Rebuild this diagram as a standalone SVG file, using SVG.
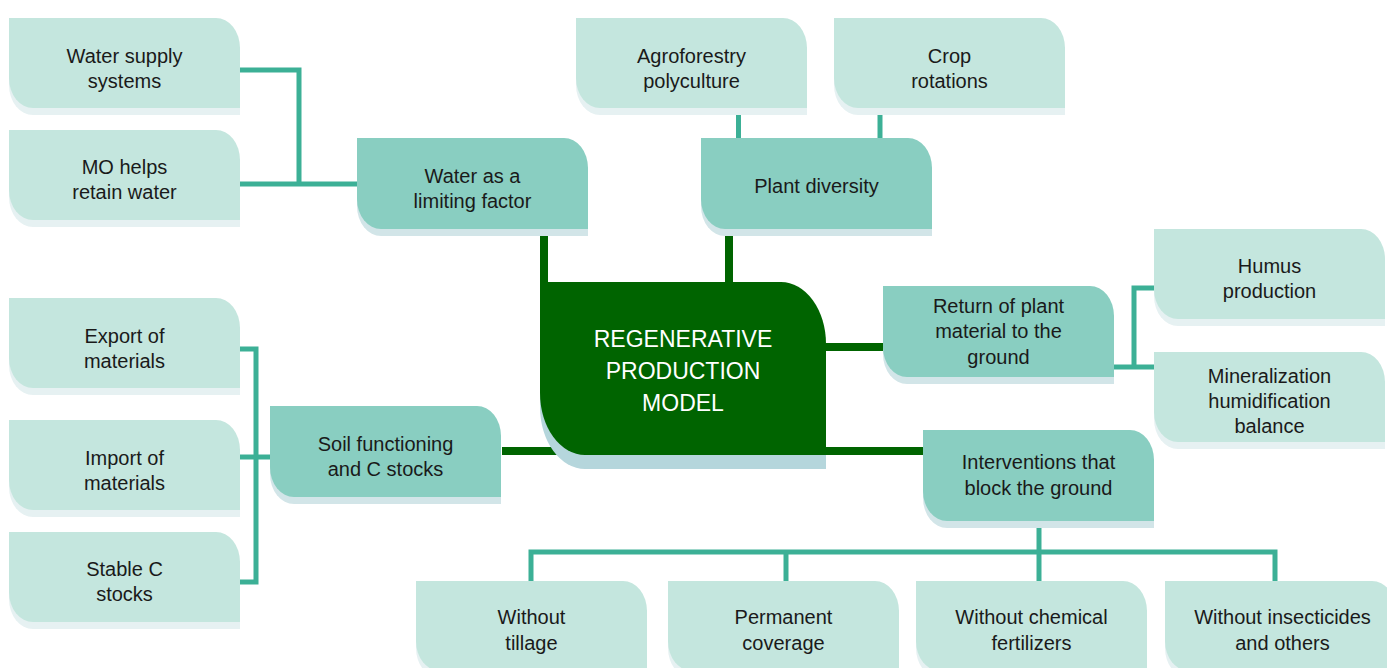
<svg xmlns="http://www.w3.org/2000/svg" xmlns:xlink="http://www.w3.org/1999/xlink" width="1387" height="668" viewBox="0 0 1387 668">
<style>
.light{fill:#c4e6de}
.sh-l{fill:#e6f1f2}
.mid{fill:#89cec1}
.sh-m{fill:#d2e5e8}
.ctr{fill:#006400}
.sh-c{fill:#b5d6dc}
.t{font-family:"Liberation Sans",Arial,sans-serif;font-size:20px;fill:#1a1a1a;text-anchor:middle}
.tc{font-family:"Liberation Sans",Arial,sans-serif;font-size:23px;fill:#ffffff;text-anchor:middle}
.teal{fill:none;stroke:#3cb096;stroke-width:5}
.dark{fill:none;stroke:#006400;stroke-width:8}
</style>
<defs>
<path id="sbox" d="M0,0 H207 A24,30 0 0 1 231,30 V90 H24 A24,30 0 0 1 0,60 Z"/>
<path id="mbox" d="M0,0 H207 A24,30 0 0 1 231,30 V91 H24 A24,30 0 0 1 0,61 Z"/>
<path id="cbox" d="M0,0 H241 A45,62 0 0 1 286,62 V173 H45 A45,62 0 0 1 0,111 Z"/>
</defs>
<rect width="1387" height="668" fill="#ffffff"/>
<g id="connectors">
<polyline class="teal" points="240,70 299,70 299,184"/>
<line class="teal" x1="240" y1="184" x2="357" y2="184"/>
<line class="teal" x1="738.5" y1="115" x2="738.5" y2="138"/>
<line class="teal" x1="880" y1="115" x2="880" y2="138"/>
<line class="teal" x1="1114" y1="367" x2="1154" y2="367"/>
<polyline class="teal" points="1134,367 1134,288 1154,288"/>
<polyline class="teal" points="240,349 256,349 256,582 240,582"/>
<line class="teal" x1="240" y1="457" x2="270" y2="457"/>
<line class="teal" x1="1039" y1="528" x2="1039" y2="581"/>
<polyline class="teal" points="531,581 531,552 1275,552 1275,581"/>
<line class="teal" x1="786" y1="552" x2="786" y2="581"/>
<line class="dark" x1="544" y1="236" x2="544" y2="290"/>
<line class="dark" x1="729" y1="236" x2="729" y2="290"/>
<line class="dark" x1="820" y1="347" x2="883" y2="347"/>
<line class="dark" x1="502" y1="451" x2="590" y2="451"/>
<line class="dark" x1="820" y1="451" x2="924" y2="451"/>
</g>
<g id="n-center">
<use xlink:href="#cbox" class="sh-c" x="540" y="296"/>
<use xlink:href="#cbox" class="ctr" x="540" y="282"/>
<text class="tc" x="683" y="347">REGENERATIVE</text>
<text class="tc" x="683" y="379">PRODUCTION</text>
<text class="tc" x="683" y="411">MODEL</text>
</g>
<g id="n-water-limiting">
<use xlink:href="#mbox" class="sh-m" x="357" y="145"/>
<use xlink:href="#mbox" class="mid" x="357" y="138"/>
<text class="t" x="472.5" y="182.5">Water as a</text>
<text class="t" x="472.5" y="207.5">limiting factor</text>
</g>
<g id="n-plant-diversity">
<use xlink:href="#mbox" class="sh-m" x="701" y="145"/>
<use xlink:href="#mbox" class="mid" x="701" y="138"/>
<text class="t" x="816.5" y="192.5">Plant diversity</text>
</g>
<g id="n-return">
<use xlink:href="#mbox" class="sh-m" x="883" y="293"/>
<use xlink:href="#mbox" class="mid" x="883" y="286"/>
<text class="t" x="998.5" y="313">Return of plant</text>
<text class="t" x="998.5" y="338">material to the</text>
<text class="t" x="998.5" y="364">ground</text>
</g>
<g id="n-soil">
<use xlink:href="#mbox" class="sh-m" x="270" y="413"/>
<use xlink:href="#mbox" class="mid" x="270" y="406"/>
<text class="t" x="385.5" y="451">Soil functioning</text>
<text class="t" x="385.5" y="476">and C stocks</text>
</g>
<g id="n-interventions">
<use xlink:href="#mbox" class="sh-m" x="923" y="437"/>
<use xlink:href="#mbox" class="mid" x="923" y="430"/>
<text class="t" x="1038.5" y="469">Interventions that</text>
<text class="t" x="1038.5" y="495">block the ground</text>
</g>
<g id="n-water-supply">
<use xlink:href="#sbox" class="sh-l" x="9" y="25"/>
<use xlink:href="#sbox" class="light" x="9" y="18"/>
<text class="t" x="124.5" y="63">Water supply</text>
<text class="t" x="124.5" y="88">systems</text>
</g>
<g id="n-mo-helps">
<use xlink:href="#sbox" class="sh-l" x="9" y="137"/>
<use xlink:href="#sbox" class="light" x="9" y="130"/>
<text class="t" x="124.5" y="174">MO helps</text>
<text class="t" x="124.5" y="199">retain water</text>
</g>
<g id="n-agroforestry">
<use xlink:href="#sbox" class="sh-l" x="576" y="25"/>
<use xlink:href="#sbox" class="light" x="576" y="18"/>
<text class="t" x="691.5" y="63">Agroforestry</text>
<text class="t" x="691.5" y="88">polyculture</text>
</g>
<g id="n-crop">
<use xlink:href="#sbox" class="sh-l" x="834" y="25"/>
<use xlink:href="#sbox" class="light" x="834" y="18"/>
<text class="t" x="949.5" y="63">Crop</text>
<text class="t" x="949.5" y="88">rotations</text>
</g>
<g id="n-humus">
<use xlink:href="#sbox" class="sh-l" x="1154" y="236"/>
<use xlink:href="#sbox" class="light" x="1154" y="229"/>
<text class="t" x="1269.5" y="273">Humus</text>
<text class="t" x="1269.5" y="298">production</text>
</g>
<g id="n-mineralization">
<use xlink:href="#sbox" class="sh-l" x="1154" y="359"/>
<use xlink:href="#sbox" class="light" x="1154" y="352"/>
<text class="t" x="1269.5" y="383">Mineralization</text>
<text class="t" x="1269.5" y="408">humidification</text>
<text class="t" x="1269.5" y="433">balance</text>
</g>
<g id="n-export">
<use xlink:href="#sbox" class="sh-l" x="9" y="305"/>
<use xlink:href="#sbox" class="light" x="9" y="298"/>
<text class="t" x="124.5" y="343">Export of</text>
<text class="t" x="124.5" y="368">materials</text>
</g>
<g id="n-import">
<use xlink:href="#sbox" class="sh-l" x="9" y="427"/>
<use xlink:href="#sbox" class="light" x="9" y="420"/>
<text class="t" x="124.5" y="465">Import of</text>
<text class="t" x="124.5" y="490">materials</text>
</g>
<g id="n-stable-c">
<use xlink:href="#sbox" class="sh-l" x="9" y="539"/>
<use xlink:href="#sbox" class="light" x="9" y="532"/>
<text class="t" x="124.5" y="576">Stable C</text>
<text class="t" x="124.5" y="601">stocks</text>
</g>
<g id="n-without-tillage">
<use xlink:href="#sbox" class="sh-l" x="416" y="588"/>
<use xlink:href="#sbox" class="light" x="416" y="581"/>
<text class="t" x="531.5" y="624">Without</text>
<text class="t" x="531.5" y="650">tillage</text>
</g>
<g id="n-permanent">
<use xlink:href="#sbox" class="sh-l" x="668" y="588"/>
<use xlink:href="#sbox" class="light" x="668" y="581"/>
<text class="t" x="783.5" y="624">Permanent</text>
<text class="t" x="783.5" y="650">coverage</text>
</g>
<g id="n-without-chemical">
<use xlink:href="#sbox" class="sh-l" x="916" y="588"/>
<use xlink:href="#sbox" class="light" x="916" y="581"/>
<text class="t" x="1031.5" y="624">Without chemical</text>
<text class="t" x="1031.5" y="650">fertilizers</text>
</g>
<g id="n-without-insecticides">
<use xlink:href="#sbox" class="sh-l" x="1165" y="588"/>
<use xlink:href="#sbox" class="light" x="1165" y="581"/>
<text class="t" x="1282.5" y="624">Without insecticides</text>
<text class="t" x="1282.5" y="650">and others</text>
</g>
</svg>
